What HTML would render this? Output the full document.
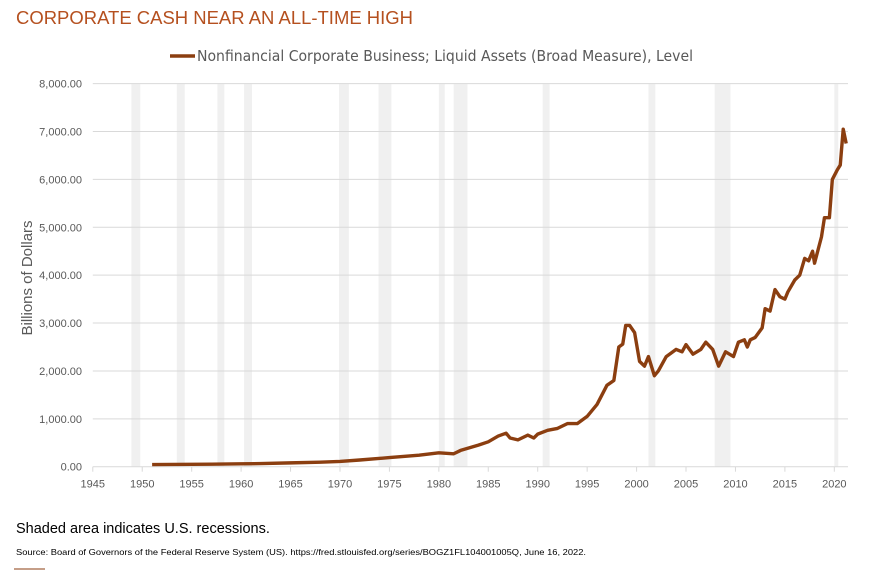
<!DOCTYPE html>
<html><head><meta charset="utf-8"><style>
body{margin:0;width:881px;height:570px;background:#fff;overflow:hidden;font-family:"Liberation Sans",sans-serif}
</style></head><body>
<svg width="881" height="570" xmlns="http://www.w3.org/2000/svg">
<text x="16" y="24" font-size="18" fill="#b5501f" textLength="397" lengthAdjust="spacingAndGlyphs">CORPORATE CASH NEAR AN ALL-TIME HIGH</text>
<g>
<line x1="170" y1="56" x2="195" y2="56" stroke="#8b3e10" stroke-width="3.5"/>
<text x="197" y="61" font-size="15" fill="#595959" font-family="DejaVu Sans Condensed, Liberation Sans Narrow, sans-serif" textLength="496" lengthAdjust="spacingAndGlyphs">Nonfinancial Corporate Business; Liquid Assets (Broad Measure), Level</text>
</g>
<g id="bands"></g>
<g id="grid"></g>
<g id="axes"></g>
<g id="series"></g>
<text transform="translate(32,278) rotate(-90)" text-anchor="middle" font-size="15" fill="#595959">Billions of Dollars</text>
<text x="16" y="533" font-size="14.5" fill="#000">Shaded area indicates U.S. recessions.</text>
<text x="16" y="555" font-size="8.6" fill="#000" textLength="570" lengthAdjust="spacingAndGlyphs">Source: Board of Governors of the Federal Reserve System (US). https://fred.stlouisfed.org/series/BOGZ1FL104001005Q, June 16, 2022.</text>
<line x1="14" y1="569" x2="45" y2="569" stroke="#8b3e10" stroke-width="1"/>
</svg>
<script>
const recessions=[[1948.9,1949.8],[1953.5,1954.3],[1957.6,1958.3],[1960.3,1961.1],[1969.9,1970.9],[1973.9,1975.2],[1980.0,1980.6],[1981.5,1982.9],[1990.5,1991.2],[2001.2,2001.9],[2007.9,2009.5],[2020.0,2020.4]];
const yTicks=[0,1000,2000,3000,4000,5000,6000,7000,8000];
const xTicks=[1945,1950,1955,1960,1965,1970,1975,1980,1985,1990,1995,2000,2005,2010,2015,2020];
const years=[1951,1953,1955,1957,1960,1962,1965,1968,1970,1972,1975,1978,1980,1981.5,1982.2,1984,1985,1986,1986.8,1987.2,1988,1989,1989.6,1990,1991,1992,1993,1994,1995,1996,1997,1997.7,1998.2,1998.6,1998.9,1999.3,1999.8,2000.3,2000.8,2001.2,2001.8,2002.2,2003,2004,2004.6,2005,2005.7,2006.5,2007,2007.7,2008.3,2009,2009.8,2010.3,2010.9,2011.2,2011.5,2012,2012.7,2013,2013.5,2014,2014.5,2015,2015.3,2016,2016.5,2017,2017.4,2017.8,2018,2018.7,2019,2019.5,2019.8,2020.3,2020.6,2020.9,2021.2];
const values=[45,48,50,52,60,65,80,95,110,140,190,240,290,270,340,450,520,640,700,600,560,660,600,680,760,800,900,900,1050,1300,1700,1800,2500,2560,2950,2950,2800,2200,2100,2300,1900,2000,2300,2450,2400,2550,2350,2450,2600,2450,2100,2400,2300,2600,2650,2500,2650,2700,2900,3300,3250,3700,3550,3500,3650,3900,4000,4350,4300,4500,4250,4800,5200,5200,6000,6200,6300,7050,6750];
const NS="http://www.w3.org/2000/svg";
const x=y=>92.8+(y-1945)*9.887;
const yv=v=>466.7-v*0.04788;
function mk(t,a,p){const e=document.createElementNS(NS,t);for(const k in a)e.setAttribute(k,a[k]);document.getElementById(p).appendChild(e);return e;}
recessions.forEach(r=>{
 const e=mk('rect',{x:x(r[0]),y:yv(8000),width:x(r[1])-x(r[0]),height:yv(0)-yv(8000),fill:'#f0f0f0'},'bands');
 
 
});
yTicks.forEach(v=>{
 if(v>0){const g=mk('line',{x1:92.8,x2:848,y1:yv(v),y2:yv(v),stroke:'#d9d9d9','stroke-width':1},'grid');
 
 }
 const t=mk('text',{x:82,y:yv(v)+4,'text-anchor':'end','font-size':11,fill:'#595959'},'axes');
 t.textContent=v.toLocaleString('en-US',{minimumFractionDigits:2});
 
 
});
const ax=mk('line',{x1:92.8,x2:848,y1:yv(0),y2:yv(0),stroke:'#d9d9d9','stroke-width':1},'axes');


xTicks.forEach(yr=>{
 const tk=mk('line',{x1:x(yr),x2:x(yr),y1:yv(0),y2:yv(0)+5,stroke:'#d9d9d9'},'axes');
 
 
 const t=mk('text',{x:x(yr),y:yv(0)+21,'text-anchor':'middle','font-size':11,fill:'#595959'},'axes');
 t.textContent=yr;
 
 
});
const p=mk('polyline',{points:years.map((yr,i)=>x(yr)+','+yv(values[i])).join(' '),fill:'none',stroke:'#8b3e10','stroke-width':3.4,'stroke-linejoin':'round'},'series');


</script>
</body></html>
